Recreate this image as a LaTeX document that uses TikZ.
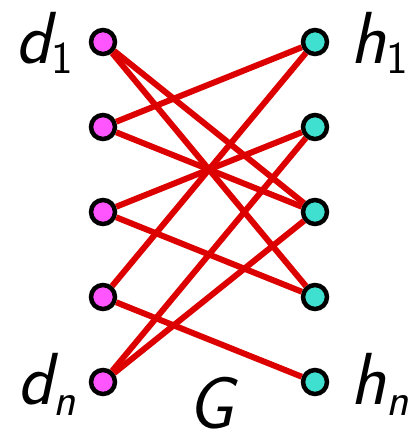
\documentclass[tikz,border=0pt]{standalone}
\definecolor{DPINK}{HTML}{FF55FF}
\definecolor{HTEAL}{HTML}{40E0D0}
\definecolor{EDGERED}{HTML}{DD0000}
\usepackage{tikz}
\usetikzlibrary{positioning}

% vertex label: main letter plus lowered index
\newcommand{\vlab}[2]{#1\raisebox{-0.22cm}{\fontsize{26}{27}\selectfont #2}}

\begin{document}
\begin{tikzpicture}[
  x=0.02cm, y=-0.02cm,
  %% left-side vertices
  dvert/.style={
    draw=black, fill=DPINK, circle, line width=0.09cm,
    minimum size=0.48cm, inner sep=0pt
  },
  %% right-side vertices
  hvert/.style={
    draw=black, fill=HTEAL, circle, line width=0.09cm,
    minimum size=0.48cm, inner sep=0pt
  },
  lbl/.style={
    inner sep=0pt, font=\fontsize{42}{48}\selectfont\sffamily\slshape
  },
  edg/.style={line width=0.12cm, EDGERED}
]
\useasboundingbox (0,0) rectangle (417,436);

%% ── Left column ─────────────────────────────────────────────
\node[dvert] (d1) at (103,  42) {};
\node[dvert] (d2) at (103, 127) {};
\node[dvert] (d3) at (103, 212) {};
\node[dvert] (d4) at (103, 297) {};
\node[dvert] (d5) at (103, 382) {};

%% ── Right column ────────────────────────────────────────────
\node[hvert] (h1) at (315,  42) {};
\node[hvert] (h2) at (315, 127) {};
\node[hvert] (h3) at (315, 212) {};
\node[hvert] (h4) at (315, 297) {};
\node[hvert] (h5) at (315, 382) {};

%% ── Edges ───────────────────────────────────────────────────
\draw[edg] (d1) -- (h3);
\draw[edg] (d1) -- (h4);
\draw[edg] (d2) -- (h1);
\draw[edg] (d2) -- (h3);
\draw[edg] (d3) -- (h2);
\draw[edg] (d3) -- (h4);
\draw[edg] (d4) -- (h1);
\draw[edg] (d4) -- (h5);
\draw[edg] (d5) -- (h2);
\draw[edg] (d5) -- (h3);

%% ── Labels ──────────────────────────────────────────────────
\node[lbl, anchor=base east] (ld1) at (73, 63)  {\vlab{d}{\upshape 1}};
\node[lbl, anchor=base east] (ldn) at (76, 404) {\vlab{d}{n}};
\node[lbl, anchor=base west] (lh1) at (350, 63)  {\vlab{h}{\upshape 1}};
\node[lbl, anchor=base west] (lhn) at (350, 404) {\vlab{h}{n}};
\node[lbl, anchor=base] (lg) at (211, 428) {G};

\end{tikzpicture}
\end{document}
